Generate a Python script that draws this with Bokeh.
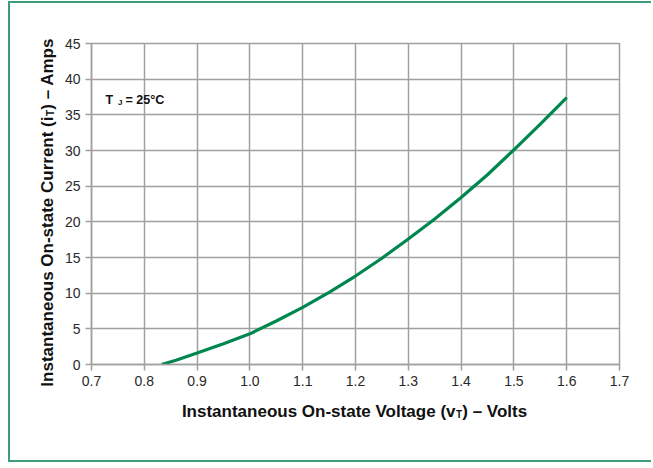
import math
from bokeh.plotting import figure
from bokeh.models import Label, Range1d, FixedTicker
from bokeh.embed import file_html
from bokeh.resources import INLINE

# ---- data ----
voltage = [0.833, 0.86, 0.9, 0.95, 1.0, 1.05, 1.1, 1.15, 1.2, 1.25, 1.3, 1.35, 1.4, 1.45, 1.5, 1.55, 1.6]
current = [0.0, 0.6, 1.6, 2.9, 4.3, 6.1, 8.0, 10.1, 12.4, 14.9, 17.6, 20.4, 23.4, 26.6, 30.1, 33.7, 37.4]
x_ticks = [0.7, 0.8, 0.9, 1.0, 1.1, 1.2, 1.3, 1.4, 1.5, 1.6, 1.7]
x_tick_labels = ["0.7", "0.8", "0.9", "1.0", "1.1", "1.2", "1.3", "1.4", "1.5", "1.6", "1.7"]
y_ticks = [0, 5, 10, 15, 20, 25, 30, 35, 40, 45]

X_MAIN = "Instantaneous On-state Voltage (v"
X_REST = ") \u2013 Volts"
Y_MAIN = "Instantaneous On-state Current (i"
Y_REST = ") \u2013 Amps"
SUB = "T"
NOTE_MAIN = "T"
NOTE_SUB = "J"
NOTE_REST = "= 25\u00b0C"

GREEN = "#00874f"
BORDER = "#3d9d77"
GRID = "#a0a0a0"
FONT = "Liberation Sans"

W, H = 643, 461
FL, FT, FW, FH = 81, 40, 528, 321

p = figure(width=W, height=H, output_backend="svg", toolbar_location=None,
           x_range=Range1d(0.7, 1.7), y_range=Range1d(0, 45),
           min_border_left=FL, min_border_right=W - FL - FW,
           min_border_top=FT, min_border_bottom=H - FT - FH)
p.styles = {"border-left": f"2px solid {BORDER}", "border-top": f"2px solid {BORDER}",
            "border-bottom": f"2px solid {BORDER}", "border-right": "0px none white",
            "margin-left": "8px", "margin-top": "1px"}

p.background_fill_color = "white"
p.border_fill_color = "white"
p.outline_line_color = GRID
p.outline_line_width = 1.5

p.xaxis.ticker = FixedTicker(ticks=x_ticks)
p.xaxis.major_label_overrides = {t: l for t, l in zip(x_ticks, x_tick_labels)}
p.yaxis.ticker = FixedTicker(ticks=y_ticks)
for ax in (p.xaxis, p.yaxis):
    ax.axis_line_color = GRID
    ax.axis_line_width = 1.5
    ax.major_tick_line_color = GRID
    ax.major_tick_line_width = 1.5
    ax.major_tick_out = 6
    ax.major_tick_in = 0
    ax.minor_tick_line_color = None
    ax.major_label_text_font = FONT
    ax.major_label_text_font_size = "14px"
    ax.major_label_text_color = "#2a2a2a"
    ax.major_label_standoff = 5
for g in (p.xgrid, p.ygrid):
    g.grid_line_color = GRID
    g.grid_line_width = 1.5

p.line(voltage, current, line_color=GREEN, line_width=3.2)

# page-pixel helpers (frame spans page x 91..619, y 43..364)
def vx(px):
    return 0.7 + (px - 91) / FW * 1.0

def iy(py):
    return 45.0 * (364 - py) / FH

def add(text, px, py, size, align="left", angle=0.0, place=None):
    lab = Label(x=vx(px), y=iy(py), text=text, text_font=FONT, text_font_style="bold",
                text_font_size=size, text_color="#111111", text_align=align,
                text_baseline="alphabetic", angle=angle)
    if place:
        p.add_layout(lab, place)
    else:
        p.add_layout(lab)

# x axis title, sub-scripted T
sx = 455.0
add(X_MAIN, sx, 411, "17px", align="right", place="below")
add(SUB, sx + 0.5, 414, "10px", place="below")
add(X_REST, sx + 6.8, 411, "17px", place="below")

# y axis title (rotated), sub-scripted T
sy = 116.0
add(Y_MAIN, 47, sy, "17px", align="right", angle=math.pi / 2, place="left")
add(SUB, 50, sy - 0.5, "10px", angle=math.pi / 2, place="left")
add(Y_REST, 47, sy - 6.8, "17px", angle=math.pi / 2, place="left")

# annotation T_J = 25 C
add(NOTE_MAIN, 105, 99, "12.5px")
add(NOTE_SUB, 117.5, 101.5, "8px")
add(NOTE_REST, 125, 99, "12.5px")

open("out.html", "w").write(file_html(p, INLINE))
